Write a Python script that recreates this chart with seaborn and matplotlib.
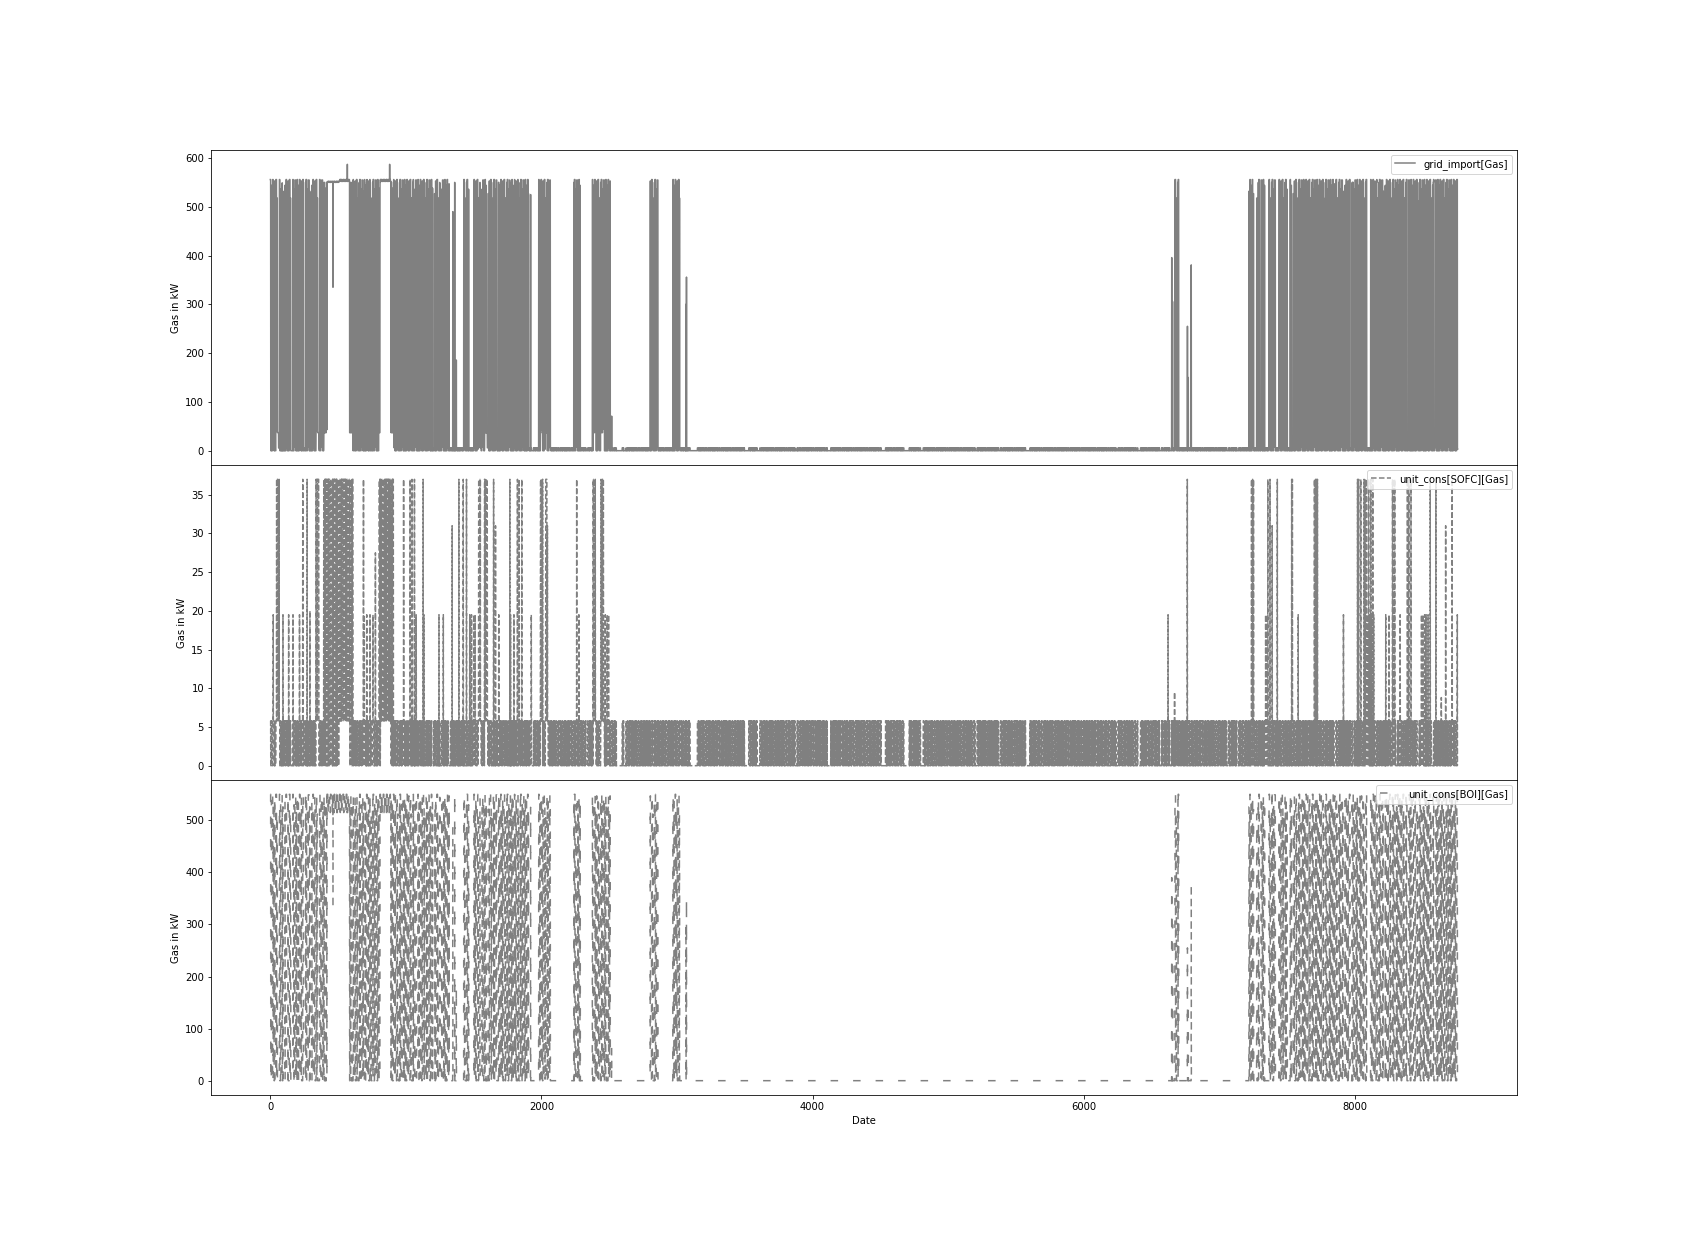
import numpy as np
import pandas as pd
import matplotlib
matplotlib.use('Agg')
import matplotlib.pyplot as plt
import seaborn as sns

HOURS = 8760
# length (h) of the alternating on / off runs the units cycle through
RUN_HOURS = [3, 5, 2, 7, 4, 1, 6, 3, 2, 8, 5, 2, 4, 9, 3, 1, 5, 6, 2, 4, 7, 3, 2, 5]
# boiler load (kW) during each of those runs while it is cycling
BOI_CYCLE_LEVEL = [550, 0, 538, 0, 550, 6, 521, 0, 547, 0, 550, 3,
                   512, 0, 544, 0, 550, 0, 530, 8, 549, 0, 526, 0]

# --- SOFC gas consumption (kW)
# each block: start hour, value in "on" runs, value in "off" runs
SOFC_SEG_START = [0, 44, 70, 337, 360, 394, 512, 585, 610, 800, 812, 890, 910,
                  1537, 1555, 1580, 1604, 1993, 2010, 2030, 2042, 2381, 2400, 2440, 2460]
SOFC_SEG_ON = [5.8, 5.8, 5.8, 5.8, 5.8, 0, 5.8, 0, 5.8, 0, 5.8, 0, 5.8,
               5.8, 5.8, 5.8, 5.8, 5.8, 5.8, 5.8, 5.8, 5.8, 5.8, 5.8, 5.8]
SOFC_SEG_OFF = [0, 37, 0, 37, 0, 37, 37, 37, 0, 37, 37, 37, 0,
                37, 0, 37, 0, 37, 0, 37, 0, 37, 0, 37, 0]
# periods where the SOFC stays off
SOFC_GAP_START = [84, 158, 705, 943, 1196, 1251, 1312, 1681, 1767, 1927, 2112, 2334,
                  2555, 2610, 3100, 3505, 3592, 3875, 4108, 4514, 4674, 4797, 5203, 5375,
                  5572, 6240, 6400, 6560, 6637, 6840, 7057, 7135, 7848, 7983, 8155, 8303,
                  8463, 8574]
SOFC_GAP_END = [92, 166, 713, 951, 1204, 1259, 1320, 1689, 1775, 1935, 2120, 2342,
                2595, 2625, 3150, 3530, 3611, 3887, 4133, 4539, 4711, 4817, 5215, 5387,
                5597, 6255, 6420, 6575, 6645, 6848, 7065, 7143, 7856, 7991, 8163, 8311,
                8471, 8582]
# single-hour SOFC peaks
SOFC_SPIKE_HOUR = [21, 93, 135, 167, 215, 239, 271, 292, 357, 687, 693, 711, 735, 757,
                   775, 983, 1031, 1045, 1063, 1076, 1127, 1133, 1244, 1276, 1341,
                   1391, 1423, 1447, 1471, 1484, 1501, 1511, 1647, 1661, 1685, 1767, 1772,
                   1797, 1823, 1836, 1855, 1925, 2044, 2260, 2276, 2471, 2485, 2495,
                   6623, 6671, 6765, 7239, 7245, 7247, 7253, 7343, 7348, 7359, 7375, 7391,
                   7429, 7535, 7540, 7583, 7703, 7711, 7719, 7725, 7917, 8021, 8029, 8045,
                   8069, 8076, 8079, 8087, 8095, 8103, 8111, 8119, 8127, 8133, 8140, 8229,
                   8253, 8279, 8287, 8295, 8335, 8389, 8399, 8415, 8493, 8503, 8516, 8527,
                   8541, 8557, 8599, 8639, 8671, 8719, 8757]
SOFC_SPIKE_VALUE = [19.5, 19.5, 19.5, 19.5, 19.5, 37, 37, 20, 31, 37, 19.5, 19.5, 19.5, 19.5,
                    27.5, 37, 37, 37, 37, 19.5, 37, 19.5, 19.5, 19.5, 31,
                    37, 37, 37, 19.5, 19.5, 19.5, 19.5, 37, 31, 19.5, 37, 19.5,
                    19.5, 37, 37, 37, 19.5, 31, 37, 19.5, 19.5, 19.5, 19.5,
                    19.5, 9.5, 37, 37, 37, 37, 37, 19.5, 19.5, 37, 37, 31,
                    37, 37, 37, 19.5, 37, 37, 37, 37, 19.5, 37, 37, 37,
                    37, 19.5, 37, 37, 19.5, 37, 19.5, 37, 19.5, 37, 19.5, 19.5,
                    19.5, 37, 37, 37, 19.5, 37, 37, 37, 19.5, 19.5, 19.5, 19.5,
                    19.5, 37, 37, 8.8, 31, 37, 19.5]

# --- Boiler gas consumption (kW)
# modes: 'cycle' = on/off cycling, 'band' = 550/515 kW near full load, 'off'
BOI_SEG_START = [0, 418, 585, 812, 890, 1328, 1427, 1464, 1497, 1906, 1980, 2066, 2234,
                 2288, 2374, 2509, 2800, 2860, 2965, 3020, 6668, 6702, 7218]
BOI_SEG_MODE = ['cycle', 'band', 'cycle', 'band', 'cycle', 'off', 'cycle', 'off', 'cycle',
                'off', 'cycle', 'off', 'cycle', 'off', 'cycle', 'off', 'cycle', 'off',
                'cycle', 'off', 'cycle', 'off', 'cycle']
BOI_BAND_ON, BOI_BAND_OFF = 550, 515
BOI_GAP_START = [59, 79, 96, 121, 158, 244, 293, 355, 613, 687, 736, 945, 1056, 1080,
                 1203, 1253, 1548, 1597, 1671, 1794, 1818, 7257, 7299, 7343, 7417, 7503,
                 7538, 7772, 7919, 7968, 8093, 8214, 8325, 8387, 8436, 8584]
BOI_GAP_END = [67, 87, 104, 129, 166, 252, 301, 363, 621, 695, 744, 953, 1064, 1088,
               1211, 1261, 1556, 1605, 1679, 1802, 1826, 7277, 7307, 7368, 7442, 7523,
               7546, 7780, 7927, 7976, 8118, 8222, 8333, 8395, 8444, 8592]
BOI_SPIKE_HOUR = [462, 1346, 1360, 1372, 1920, 2518, 3066, 3070, 6650, 6656, 6766, 6772, 6794]
BOI_SPIKE_VALUE = [335, 490, 550, 180, 525, 65, 300, 350, 390, 300, 255, 150, 375]

# --- grid import peaks above the boiler + SOFC base level
IMPORT_SPIKE_HOUR = [568, 880]
IMPORT_SPIKE_VALUE = [587, 587]

runs = np.repeat(np.arange(len(RUN_HOURS)) % 2 == 0, RUN_HOURS)
ON_RUN = np.resize(runs, HOURS)
CYCLE = np.resize(np.repeat(BOI_CYCLE_LEVEL, RUN_HOURS), HOURS)

# SOFC base load
sofc_base = np.zeros(HOURS)
bounds = SOFC_SEG_START + [HOURS]
for a, b, v_on, v_off in zip(bounds[:-1], bounds[1:], SOFC_SEG_ON, SOFC_SEG_OFF):
    sofc_base[a:b] = np.where(ON_RUN[a:b], v_on, v_off)
for a, b in zip(SOFC_GAP_START, SOFC_GAP_END):
    sofc_base[a:b] = 0

# boiler
boi = np.zeros(HOURS)
bounds = BOI_SEG_START + [HOURS]
for a, b, mode in zip(bounds[:-1], bounds[1:], BOI_SEG_MODE):
    if mode == 'cycle':
        boi[a:b] = CYCLE[a:b]
    elif mode == 'band':
        boi[a:b] = np.where(ON_RUN[a:b], BOI_BAND_ON, BOI_BAND_OFF)
for a, b in zip(BOI_GAP_START, BOI_GAP_END):
    boi[a:b] = 0
boi[BOI_SPIKE_HOUR] = BOI_SPIKE_VALUE

grid_import = sofc_base + boi
grid_import[IMPORT_SPIKE_HOUR] = IMPORT_SPIKE_VALUE
sofc = sofc_base.copy()
sofc[SOFC_SPIKE_HOUR] = SOFC_SPIKE_VALUE

df = pd.DataFrame({
    'hour': np.arange(HOURS),
    'grid_import[Gas]': grid_import,
    'unit_cons[SOFC][Gas]': sofc,
    'unit_cons[BOI][Gas]': boi,
})

SERIES = ['grid_import[Gas]', 'unit_cons[SOFC][Gas]', 'unit_cons[BOI][Gas]']
STYLES = ['-', '--', (0, (5, 10))]

fig, axes = plt.subplots(3, 1, sharex=True, figsize=(1684 / 72, 1252 / 72), dpi=72)
plt.subplots_adjust(left=0.1253, right=0.9008, top=0.8802, bottom=0.1254, hspace=0)

for ax, col, ls in zip(axes, SERIES, STYLES):
    sns.lineplot(data=df, x='hour', y=col, ax=ax, color='grey', linewidth=1.5,
                 linestyle=ls, label=col, estimator=None, sort=False)
    ax.set_ylabel('Gas in kW')
    ax.set_xlabel('')
    ax.legend(loc='upper right')

axes[-1].set_xlabel('Date')
fig.savefig('out.png', dpi=72)
